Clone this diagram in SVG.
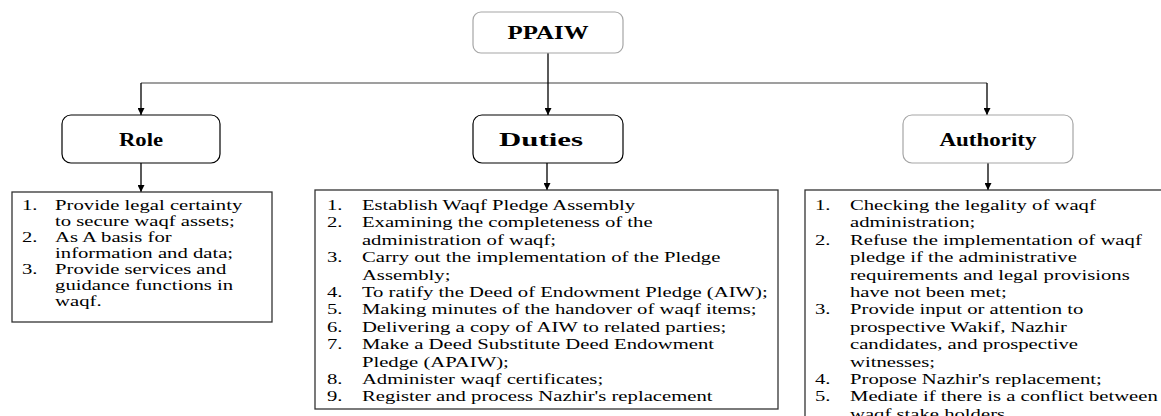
<svg xmlns="http://www.w3.org/2000/svg" width="1161" height="416" viewBox="0 0 1161 416">
<defs>
<marker id="arr" viewBox="0 0 10 10" refX="10" refY="5" markerWidth="7" markerHeight="7" markerUnits="userSpaceOnUse" orient="auto"><path d="M0,0 L10,5 L0,10 z" fill="#000"/></marker>
<style>
.t{font-family:"Liberation Serif","Times New Roman",serif;font-size:15px;fill:#000}
.h{font-family:"Liberation Serif","Times New Roman",serif;font-size:19px;font-weight:bold;fill:#000;text-anchor:middle}
.bx{fill:#fff;stroke:#000;stroke-width:1.2}
.bxg{fill:#fff;stroke:#a6a6a6;stroke-width:1.2}
.lst{fill:#fff;stroke:#333;stroke-width:1.3}
.c{fill:none;stroke:#000;stroke-width:1.3}
.cg{fill:none;stroke:#7f7f7f;stroke-width:1.5}
</style>
</defs>
<rect width="1161" height="416" fill="#fff"/>
<g id="connectors">
<path class="cg" d="M141,83 H987"/>
<path class="c" d="M548,53 V115" marker-end="url(#arr)"/>
<path class="c" d="M141,83 V115" marker-end="url(#arr)"/>
<path class="c" d="M987,83 V115" marker-end="url(#arr)"/>
<path class="c" d="M141,163 V192" marker-end="url(#arr)"/>
<path class="c" d="M547,163 V190" marker-end="url(#arr)"/>
<path class="c" d="M988,163 V190" marker-end="url(#arr)"/>
</g>
<g id="ppaiw">
<rect class="bxg" x="473" y="12" width="150" height="41" rx="8"/>
<text class="h" x="548" y="39" textLength="81" lengthAdjust="spacingAndGlyphs">PPAIW</text>
</g>
<g id="role">
<rect class="bx" x="62" y="115" width="158" height="48" rx="9"/>
<text class="h" x="141" y="146" textLength="44" lengthAdjust="spacingAndGlyphs">Role</text>
</g>
<g id="duties">
<rect class="bx" x="473" y="115" width="150" height="48" rx="9"/>
<text class="h" x="541" y="146" textLength="84" lengthAdjust="spacingAndGlyphs">Duties</text>
</g>
<g id="authority">
<rect class="bxg" x="903" y="115" width="170" height="48" rx="9"/>
<text class="h" x="988" y="146" textLength="97" lengthAdjust="spacingAndGlyphs">Authority</text>
</g>
<g id="role-list">
<rect class="lst" x="12" y="192" width="260" height="130"/>
<g transform="translate(12,0) scale(1.38,1)">
<text class="t" x="7.2" y="210">1.</text><text class="t" x="31.2" y="210">Provide legal certainty</text>
<text class="t" x="31.2" y="226">to secure waqf assets;</text>
<text class="t" x="7.2" y="242">2.</text><text class="t" x="31.2" y="242">As A basis for</text>
<text class="t" x="31.2" y="258">information and data;</text>
<text class="t" x="7.2" y="274">3.</text><text class="t" x="31.2" y="274">Provide services and</text>
<text class="t" x="31.2" y="290">guidance functions in</text>
<text class="t" x="31.2" y="306">waqf.</text>
</g>
</g>
<g id="duties-list">
<rect class="lst" x="315" y="190" width="463" height="219"/>
<g transform="translate(315,0) scale(1.38,1)">
<text class="t" x="8.7" y="210">1.</text><text class="t" x="34" y="210">Establish Waqf Pledge Assembly</text>
<text class="t" x="8.7" y="227.4">2.</text><text class="t" x="34" y="227.4">Examining the completeness of the</text>
<text class="t" x="34" y="244.8">administration of waqf;</text>
<text class="t" x="8.7" y="262.2">3.</text><text class="t" x="34" y="262.2">Carry out the implementation of the Pledge</text>
<text class="t" x="34" y="279.6">Assembly;</text>
<text class="t" x="8.7" y="297">4.</text><text class="t" x="34" y="297">To ratify the Deed of Endowment Pledge (AIW);</text>
<text class="t" x="8.7" y="314.4">5.</text><text class="t" x="34" y="314.4">Making minutes of the handover of waqf items;</text>
<text class="t" x="8.7" y="331.8">6.</text><text class="t" x="34" y="331.8">Delivering a copy of AIW to related parties;</text>
<text class="t" x="8.7" y="349.2">7.</text><text class="t" x="34" y="349.2">Make a Deed Substitute Deed Endowment</text>
<text class="t" x="34" y="366.6">Pledge (APAIW);</text>
<text class="t" x="8.7" y="384">8.</text><text class="t" x="34" y="384">Administer waqf certificates;</text>
<text class="t" x="8.7" y="401.4">9.</text><text class="t" x="34" y="401.4">Register and process Nazhir's replacement</text>
</g>
</g>
<g id="authority-list">
<rect class="lst" x="805" y="190" width="400" height="260"/>
<g transform="translate(805,0) scale(1.38,1)">
<text class="t" x="7.2" y="210">1.</text><text class="t" x="32.6" y="210">Checking the legality of waqf</text>
<text class="t" x="32.6" y="227.4">administration;</text>
<text class="t" x="7.2" y="244.8">2.</text><text class="t" x="32.6" y="244.8">Refuse the implementation of waqf</text>
<text class="t" x="32.6" y="262.2">pledge if the administrative</text>
<text class="t" x="32.6" y="279.6">requirements and legal provisions</text>
<text class="t" x="32.6" y="297">have not been met;</text>
<text class="t" x="7.2" y="314.4">3.</text><text class="t" x="32.6" y="314.4">Provide input or attention to</text>
<text class="t" x="32.6" y="331.8">prospective Wakif, Nazhir</text>
<text class="t" x="32.6" y="349.2">candidates, and prospective</text>
<text class="t" x="32.6" y="366.6">witnesses;</text>
<text class="t" x="7.2" y="384">4.</text><text class="t" x="32.6" y="384">Propose Nazhir's replacement;</text>
<text class="t" x="7.2" y="401.4">5.</text><text class="t" x="32.6" y="401.4">Mediate if there is a conflict between</text>
<text class="t" x="32.6" y="418.8">waqf stake holders</text>
</g>
</g>
</svg>
